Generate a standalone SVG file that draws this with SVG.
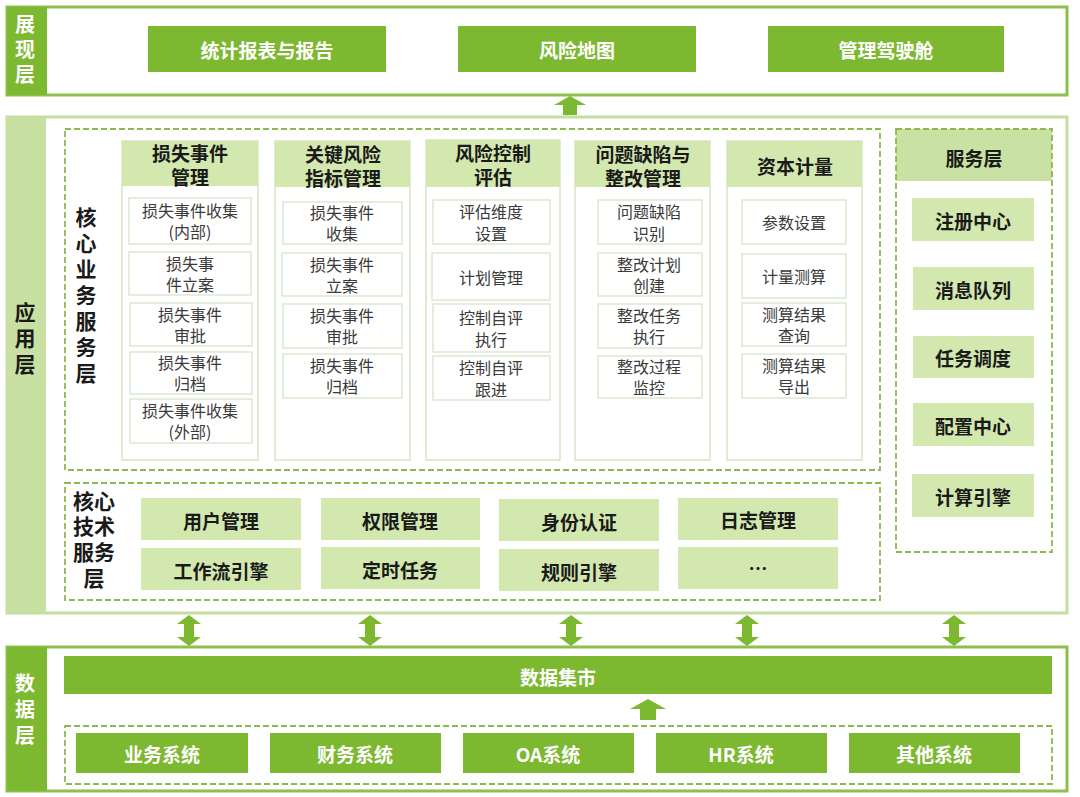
<svg xmlns="http://www.w3.org/2000/svg" width="1080" height="797" viewBox="0 0 1080 797">
<style>
text{font-family:"Noto Sans CJK SC","Noto Sans CJK JP",sans-serif;text-anchor:middle;dominant-baseline:central}
.vt{writing-mode:vertical-rl;text-orientation:upright}
.dk{fill:#7db831}
.lt{fill:#d3e8ae}
.wt{fill:#fff;font-size:19px;font-weight:bold}
.bk{fill:#1a1a1a;font-size:19px;font-weight:bold}
.hd{fill:#1a1a1a;font-size:19px;font-weight:bold}
.lb{fill:#fff;font-size:20px;font-weight:bold}
.lbk{fill:#1a1a1a;font-size:21px;font-weight:bold}
.it{fill:#3a3a3a;font-size:16px}
.ib{fill:#fff;stroke:#dde7d2;stroke-width:1.5}
.col{fill:#fff;stroke:#d6e6c4;stroke-width:1.5}
.dash{fill:none;stroke:#8db84f;stroke-width:1.8;stroke-dasharray:6 3}
.arr{fill:#7db831}
</style>
<rect width="1080" height="797" fill="#fff"/>

<g id="layer-presentation">
<rect x="7" y="7" width="1060" height="88" fill="#fff" stroke="#8cc04c" stroke-width="3"/>
<rect x="7" y="7" width="40" height="88" class="dk"/>
<text x="25" y="51.5" class="lb vt" letter-spacing="5">展现层</text>
<g id="n-report"><rect x="148" y="26" width="238" height="46" class="dk"/><text x="267" y="49" class="wt">统计报表与报告</text></g>
<g id="n-riskmap"><rect x="458" y="26" width="238" height="46" class="dk"/><text x="577" y="49" class="wt">风险地图</text></g>
<g id="n-cockpit"><rect x="768" y="26" width="236" height="46" class="dk"/><text x="886" y="49" class="wt">管理驾驶舱</text></g>
</g>

<g id="layer-application">
<rect x="7" y="117" width="1060" height="496" fill="#fff" stroke="#c4dea0" stroke-width="3"/>
<rect x="7" y="117" width="39" height="496" fill="#c8e1a3"/>
<text x="25" y="340.5" class="lbk vt" letter-spacing="5">应用层</text>
</g>

<g id="core-business">
<rect x="65" y="129" width="815" height="341" class="dash"/>
<text x="86" y="297.5" class="lbk vt" letter-spacing="5">核心业务服务层</text>
</g>

<g id="col-loss">
<rect x="122" y="141" width="136" height="319" class="col"/>
<rect x="122" y="141" width="136" height="45" class="lt"/>
<text class="hd"><tspan x="190" y="152">损失事件</tspan><tspan x="190" y="176">管理</tspan></text>
<rect x="129" y="198" width="122" height="46" class="ib"/><text class="it"><tspan x="190" y="210">损失事件收集</tspan><tspan x="190" y="231">(内部)</tspan></text>
<rect x="129" y="252" width="122" height="43" class="ib"/><text class="it"><tspan x="190" y="263">损失事</tspan><tspan x="190" y="284">件立案</tspan></text>
<rect x="130" y="303" width="122" height="43" class="ib"/><text class="it"><tspan x="190" y="314">损失事件</tspan><tspan x="190" y="335">审批</tspan></text>
<rect x="130" y="352" width="122" height="42" class="ib"/><text class="it"><tspan x="190" y="362">损失事件</tspan><tspan x="190" y="383">归档</tspan></text>
<rect x="130" y="399" width="122" height="44" class="ib"/><text class="it"><tspan x="190" y="410">损失事件收集</tspan><tspan x="190" y="431">(外部)</tspan></text>
</g>

<g id="col-kri">
<rect x="275" y="141" width="135" height="319" class="col"/>
<rect x="275" y="141" width="135" height="46" class="lt"/>
<text class="hd"><tspan x="343" y="153">关键风险</tspan><tspan x="343" y="177">指标管理</tspan></text>
<rect x="283" y="202" width="119" height="42" class="ib"/><text class="it"><tspan x="342" y="212">损失事件</tspan><tspan x="342" y="233">收集</tspan></text>
<rect x="282" y="253" width="120" height="43" class="ib"/><text class="it"><tspan x="342" y="264">损失事件</tspan><tspan x="342" y="285">立案</tspan></text>
<rect x="283" y="304" width="119" height="44" class="ib"/><text class="it"><tspan x="342" y="315">损失事件</tspan><tspan x="342" y="336">审批</tspan></text>
<rect x="283" y="354" width="119" height="44" class="ib"/><text class="it"><tspan x="342" y="365">损失事件</tspan><tspan x="342" y="386">归档</tspan></text>
</g>

<g id="col-rcsa">
<rect x="426" y="140" width="134" height="320" class="col"/>
<rect x="426" y="140" width="134" height="47" class="lt"/>
<text class="hd"><tspan x="493" y="152">风险控制</tspan><tspan x="493" y="176">评估</tspan></text>
<rect x="433" y="200" width="117" height="44" class="ib"/><text class="it"><tspan x="491" y="211">评估维度</tspan><tspan x="491" y="233">设置</tspan></text>
<rect x="432" y="253" width="118" height="47" class="ib"/><text x="491" y="277" class="it">计划管理</text>
<rect x="433" y="304" width="117" height="48" class="ib"/><text class="it"><tspan x="491" y="317">控制自评</tspan><tspan x="491" y="339">执行</tspan></text>
<rect x="433" y="356" width="117" height="44" class="ib"/><text class="it"><tspan x="491" y="367">控制自评</tspan><tspan x="491" y="389">跟进</tspan></text>
</g>

<g id="col-issue">
<rect x="575" y="141" width="135" height="319" class="col"/>
<rect x="575" y="141" width="135" height="46" class="lt"/>
<text class="hd"><tspan x="643" y="153">问题缺陷与</tspan><tspan x="643" y="177">整改管理</tspan></text>
<rect x="598" y="200" width="104" height="44" class="ib"/><text class="it"><tspan x="649" y="211">问题缺陷</tspan><tspan x="649" y="233">识别</tspan></text>
<rect x="598" y="253" width="104" height="43" class="ib"/><text class="it"><tspan x="649" y="264">整改计划</tspan><tspan x="649" y="285">创建</tspan></text>
<rect x="598" y="304" width="104" height="44" class="ib"/><text class="it"><tspan x="649" y="315">整改任务</tspan><tspan x="649" y="336">执行</tspan></text>
<rect x="598" y="356" width="104" height="42" class="ib"/><text class="it"><tspan x="649" y="366">整改过程</tspan><tspan x="649" y="387">监控</tspan></text>
</g>

<g id="col-capital">
<rect x="727" y="141" width="135" height="319" class="col"/>
<rect x="727" y="141" width="135" height="46" class="lt"/>
<text x="795" y="165" class="hd">资本计量</text>
<rect x="742" y="200" width="104" height="44" class="ib"/><text x="794" y="222" class="it">参数设置</text>
<rect x="742" y="254" width="104" height="44" class="ib"/><text x="794" y="276" class="it">计量测算</text>
<rect x="742" y="303" width="104" height="43" class="ib"/><text class="it"><tspan x="794" y="314">测算结果</tspan><tspan x="794" y="335">查询</tspan></text>
<rect x="742" y="354" width="104" height="44" class="ib"/><text class="it"><tspan x="794" y="365">测算结果</tspan><tspan x="794" y="386">导出</tspan></text>
</g>

<g id="service-layer">
<rect x="896" y="129" width="156" height="52" fill="#c9e2a4"/>
<rect x="896" y="129" width="156" height="423" class="dash"/>
<text x="974" y="157" class="hd">服务层</text>
<g id="n-reg"><rect x="912" y="198" width="122" height="43" class="lt"/><text x="973" y="220" class="bk">注册中心</text></g>
<g id="n-mq"><rect x="913" y="267" width="121" height="43" class="lt"/><text x="973" y="289" class="bk">消息队列</text></g>
<g id="n-sched"><rect x="913" y="336" width="121" height="42" class="lt"/><text x="973" y="357" class="bk">任务调度</text></g>
<g id="n-conf"><rect x="913" y="403" width="121" height="43" class="lt"/><text x="973" y="425" class="bk">配置中心</text></g>
<g id="n-calc"><rect x="912" y="474" width="122" height="43" class="lt"/><text x="973" y="496" class="bk">计算引擎</text></g>
</g>

<g id="core-tech">
<rect x="65" y="483" width="815" height="117" class="dash"/>
<text class="lbk"><tspan x="94" y="500">核心</tspan><tspan x="94" y="525">技术</tspan><tspan x="94" y="551">服务</tspan><tspan x="94" y="577">层</tspan></text>
<g id="n-user"><rect x="141" y="498" width="160" height="42" class="lt"/><text x="221" y="520" class="bk">用户管理</text></g>
<g id="n-perm"><rect x="321" y="498" width="159" height="42" class="lt"/><text x="400" y="520" class="bk">权限管理</text></g>
<g id="n-auth"><rect x="499" y="499" width="160" height="42" class="lt"/><text x="579" y="521" class="bk">身份认证</text></g>
<g id="n-log"><rect x="678" y="498" width="160" height="42" class="lt"/><text x="758" y="519" class="bk">日志管理</text></g>
<g id="n-wf"><rect x="141" y="548" width="160" height="42" class="lt"/><text x="221" y="570" class="bk">工作流引擎</text></g>
<g id="n-timer"><rect x="321" y="547" width="159" height="42" class="lt"/><text x="400" y="569" class="bk">定时任务</text></g>
<g id="n-rule"><rect x="499" y="549" width="160" height="42" class="lt"/><text x="579" y="571" class="bk">规则引擎</text></g>
<g id="n-more"><rect x="678" y="547" width="160" height="42" class="lt"/><text x="758" y="567" class="bk">…</text></g>
</g>

<g id="layer-data">
<rect x="7" y="647" width="1060" height="144" fill="#fff" stroke="#8cc04c" stroke-width="3"/>
<rect x="7" y="647" width="40" height="144" class="dk"/>
<text x="25" y="712.5" class="lb vt" letter-spacing="6">数据层</text>
<g id="n-mart"><rect x="64" y="656" width="988" height="38" class="dk"/><text x="558" y="676" class="wt">数据集市</text></g>
<rect x="65" y="726" width="987" height="58" class="dash"/>
<g id="n-biz"><rect x="76" y="733" width="172" height="40" class="dk"/><text x="162" y="753" class="wt">业务系统</text></g>
<g id="n-fin"><rect x="270" y="733" width="171" height="40" class="dk"/><text x="355" y="753" class="wt">财务系统</text></g>
<g id="n-oa"><rect x="463" y="733" width="171" height="40" class="dk"/><text x="548" y="753" class="wt">OA系统</text></g>
<g id="n-hr"><rect x="656" y="733" width="171" height="40" class="dk"/><text x="741" y="753" class="wt">HR系统</text></g>
<g id="n-other"><rect x="849" y="733" width="171" height="40" class="dk"/><text x="934" y="753" class="wt">其他系统</text></g>
</g>

<g id="connectors">
<polygon class="arr" points="570,96 586,105 577,105 577,115 563,115 563,105 554,105"/>
<polygon class="arr" points="648,699 666,709 656,709 656,720 640,720 640,709 630,709"/>
<g id="dbl">
<polygon class="arr" points="189,615 201,624 194,624 194,637 201,637 189,646 177,637 184,637 184,624 177,624"/>
<polygon class="arr" points="370,615 382,624 375,624 375,637 382,637 370,646 358,637 365,637 365,624 358,624"/>
<polygon class="arr" points="571,615 583,624 576,624 576,637 583,637 571,646 559,637 566,637 566,624 559,624"/>
<polygon class="arr" points="747,615 759,624 752,624 752,637 759,637 747,646 735,637 742,637 742,624 735,624"/>
<polygon class="arr" points="954,615 966,624 959,624 959,637 966,637 954,646 942,637 949,637 949,624 942,624"/>
</g>
</g>
</svg>
